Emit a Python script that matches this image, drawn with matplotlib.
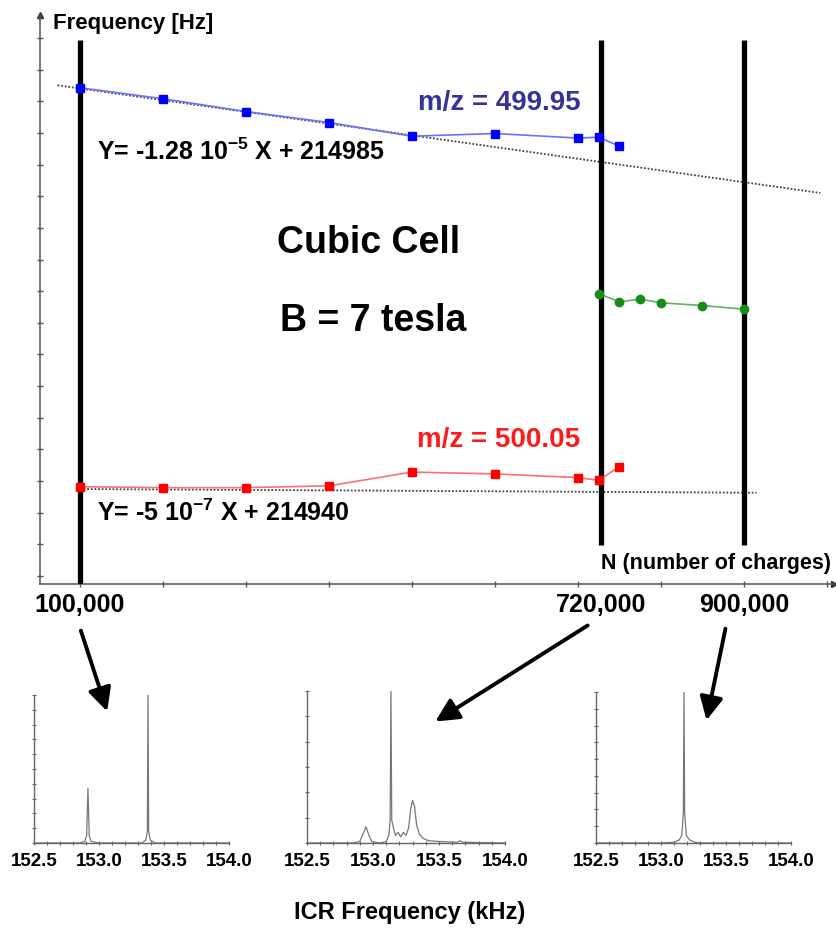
import numpy as np
import matplotlib
matplotlib.use('Agg')
import matplotlib.pyplot as plt
from matplotlib.patches import FancyArrowPatch

plt.rcParams['font.family'] = ['Liberation Sans', 'DejaVu Sans']
plt.rcParams['font.weight'] = 'bold'
plt.rcParams['mathtext.fontset'] = 'custom'
plt.rcParams['mathtext.rm'] = 'Liberation Sans:bold'
plt.rcParams['mathtext.bf'] = 'Liberation Sans:bold'
plt.rcParams['mathtext.default'] = 'bf'

# number of charges and measured frequencies (Hz)
n_charges = [100000, 200000, 300000, 400000, 500000, 600000, 700000, 725000, 750000]
freq_mz_49995 = [214983.8, 214982.6, 214981.2, 214980.0, 214978.5, 214978.8, 214978.3, 214978.4, 214977.4]
freq_mz_50005 = [214940.2, 214940.1, 214940.1, 214940.3, 214941.8, 214941.6, 214941.2, 214940.9, 214942.4]
n_coalesced = [725000, 750000, 775000, 800000, 850000, 900000]
freq_coalesced = [214961.3, 214960.4, 214960.7, 214960.3, 214960.0, 214959.6]

# linear fits (slope, intercept) and x-range where the dotted line is drawn
fit_49995 = (-1.28e-5, 214985)
fit_49995_range = [73000, 992000]
fit_50005 = (-5e-7, 214940)
fit_50005_range = [100000, 915000]

# marked numbers of charges
marked_n = [100000, 728000, 900000]
marked_labels = ['100,000', '720,000', '900,000']

# ICR spectra (kHz, relative intensity)
spec1_x = [152.5, 152.85, 152.89, 152.905, 152.915, 152.925, 152.94, 153.0, 153.33, 153.36, 153.372, 153.377, 153.382, 153.395, 153.43, 154.0]
spec1_y = [0, 0, 0.01, 0.05, 0.37, 0.05, 0.01, 0, 0, 0.02, 0.08, 1.0, 0.08, 0.02, 0, 0]
spec2_x = [152.5, 152.85, 152.90, 152.93, 152.947, 152.965, 152.99, 153.05, 153.10, 153.12, 153.13, 153.136, 153.142,
           153.155, 153.17, 153.19, 153.21, 153.23, 153.25, 153.27, 153.285, 153.30, 153.315, 153.33, 153.35, 153.38,
           153.42, 153.5, 153.64, 153.66, 153.68, 154.0]
spec2_y = [0, 0, 0.01, 0.07, 0.107, 0.06, 0.01, 0, 0.01, 0.05, 0.15, 1.0, 0.15,
           0.1, 0.05, 0.07, 0.04, 0.07, 0.05, 0.10, 0.22, 0.28, 0.24, 0.12, 0.06, 0.03,
           0.015, 0.01, 0.005, 0.015, 0.005, 0]
spec3_x = [152.5, 153.0, 153.10, 153.14, 153.16, 153.172, 153.177, 153.182, 153.195, 153.22, 153.26, 153.3, 154.0]
spec3_y = [0, 0, 0.005, 0.02, 0.05, 0.2, 1.0, 0.2, 0.05, 0.02, 0.005, 0, 0]
spec_ticks = [152.5, 153.0, 153.5, 154.0]

W, H = 836, 935
fig = plt.figure(figsize=(W / 100, H / 100), dpi=100)


def fx(px):
    return px / W


def fy(py):
    return 1 - py / H


# main plot
ax = fig.add_axes([fx(40), fy(584), fx(834) - fx(40), fy(15) - fy(584)])
ax.set_xlim(51807, 1008434)
ax.set_ylim(214929.57, 214991.75)
for s in ['top', 'right']:
    ax.spines[s].set_visible(False)
for s in ['left', 'bottom']:
    ax.spines[s].set_color('#555555')
    ax.spines[s].set_linewidth(1.1)
ax.set_xticks(np.arange(100000, 1000001, 100000))
ax.set_xticklabels([])
ax.set_yticks(np.linspace(214930.44, 214989.24, 18))
ax.set_yticklabels([])
ax.tick_params(direction='inout', length=4, width=1, color='#555555')
ax.plot(1, 0, '>', color='#333333', ms=5, transform=ax.transAxes, clip_on=False)
ax.plot(0, 1, '^', color='#333333', ms=5, transform=ax.transAxes, clip_on=False)

# fit lines
for (m, b), rng in [(fit_49995, fit_49995_range), (fit_50005, fit_50005_range)]:
    xs = np.array(rng)
    ax.plot(xs, m * xs + b, linestyle=(0, (1, 1)), color='#444444', lw=1.3, zorder=2)

# vertical markers
ax.vlines(marked_n[0], 214929.57, 214989.0, color='black', lw=3.8, zorder=3)
ax.vlines(marked_n[1:], 214933.8, 214989.0, color='black', lw=3.8, zorder=3)
for xv, lab in zip(marked_n, marked_labels):
    ax.text(xv, -0.037, lab, transform=ax.get_xaxis_transform(), ha='center', va='center',
            fontsize=18, fontweight='bold')

ax.plot(n_charges, freq_mz_49995, color='#6f6fff', lw=1.2, marker='s', ms=6,
        mfc='#0000ff', mec='#0000ff', zorder=4)
ax.plot(n_charges, freq_mz_50005, color='#ff7070', lw=1.2, marker='s', ms=6,
        mfc='#ff0000', mec='#ff0000', zorder=4)
ax.plot(n_coalesced, freq_coalesced, color='#5fb35f', lw=1.2, marker='o', ms=6,
        mfc='#1a8c1a', mec='#1a8c1a', zorder=4)

fig.text(fx(53), fy(23), 'Frequency [Hz]', fontsize=16, fontweight='bold', va='center')
fig.text(fx(601), fy(563), 'N (number of charges)', fontsize=15.5, fontweight='bold', va='center')
fig.text(fx(418), fy(103), 'm/z = 499.95', fontsize=20, fontweight='bold', color='#333399', va='center')
fig.text(fx(417), fy(440), 'm/z = 500.05', fontsize=20, fontweight='bold', color='#ff1a1a', va='center')
fig.text(fx(97), fy(152), r'Y= -1.28 10$^{-5}$ X + 214985', fontsize=18, fontweight='bold', va='center')
fig.text(fx(97), fy(513), r'Y= -5 10$^{-7}$ X + 214940', fontsize=18, fontweight='bold', va='center')
fig.text(fx(277), fy(243), 'Cubic Cell', fontsize=27, fontweight='bold', va='center')
fig.text(fx(280), fy(321), 'B = 7 tesla', fontsize=27, fontweight='bold', va='center')

# arrows from the marked N values to the spectra
for (x0, y0), (x1, y1) in [((80, 628), (108, 714)), ((590, 624), (433, 723)), ((726, 626), (706, 723))]:
    fig.add_artist(FancyArrowPatch((fx(x0), fy(y0)), (fx(x1), fy(y1)), transform=fig.transFigure,
                                   arrowstyle='-|>,head_length=0.7,head_width=0.35', mutation_scale=20,
                                   lw=2.8, color='black'))

# spectra insets
panels = [((34, 229, 695), spec1_x, spec1_y, 11),
          ((307, 505, 691), spec2_x, spec2_y, 7),
          ((596, 791, 692), spec3_x, spec3_y, 10)]
for (left, right, top), sx, sy, nt in panels:
    a = fig.add_axes([fx(left), fy(843), fx(right) - fx(left), fy(top) - fy(843)])
    a.plot(sx, sy, color='#777777', lw=0.9)
    a.set_xlim(152.5, 154.0)
    a.set_ylim(0, 1.0)
    for s in ['top', 'right']:
        a.spines[s].set_visible(False)
    for s in ['left', 'bottom']:
        a.spines[s].set_color('#666666')
        a.spines[s].set_linewidth(1)
    a.set_xticks(spec_ticks)
    a.set_xticklabels(['%.1f' % t for t in spec_ticks], fontsize=13.5, fontweight='bold')
    a.set_xticks(np.arange(152.5, 154.01, 0.1), minor=True)
    a.set_yticks(np.linspace(0, 1, nt))
    a.set_yticklabels([])
    a.tick_params(which='both', direction='inout', length=3, width=0.8, color='#666666', pad=6)

fig.text(fx(410), fy(912), 'ICR Frequency (kHz)', fontsize=17, fontweight='bold', ha='center', va='center')

fig.savefig('out.png', dpi=100)
